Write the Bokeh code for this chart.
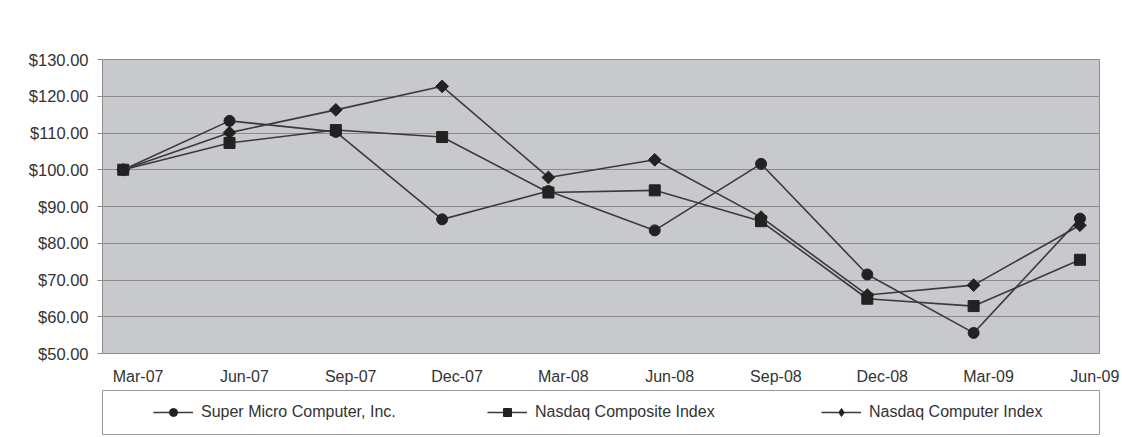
import math
from bokeh.plotting import figure
from bokeh.layouts import column
from bokeh.models import (Range1d, FixedTicker, Legend, LegendItem, ColumnDataSource)
from bokeh.embed import file_html
from bokeh.resources import INLINE

# ---- data ----
quarters = ["Mar-07", "Jun-07", "Sep-07", "Dec-07", "Mar-08", "Jun-08",
            "Sep-08", "Dec-08", "Mar-09", "Jun-09"]
smci = [100.0, 113.3, 110.3, 86.5, 94.2, 83.5, 101.6, 71.5, 55.6, 86.7]
nasdaq_composite = [100.0, 107.3, 110.8, 108.9, 93.8, 94.4, 86.0, 64.9, 62.9, 75.5]
nasdaq_computer = [100.0, 110.1, 116.3, 122.7, 97.9, 102.7, 87.1, 65.9, 68.6, 84.9]
y_ticks = [50, 60, 70, 80, 90, 100, 110, 120, 130]
series_names = ["Super Micro Computer, Inc.", "Nasdaq Composite Index", "Nasdaq Computer Index"]

xs = list(range(len(quarters)))
FONT = "Liberation Sans"

p = figure(output_backend="svg", toolbar_location=None,
           frame_width=997, frame_height=294,
           min_border_left=102, min_border_top=59, min_border_right=20, min_border_bottom=36,
           x_range=Range1d(-0.195, 9.184), y_range=Range1d(50, 130))

p.background_fill_color = "#c8c9cd"
p.border_fill_color = "white"
p.outline_line_color = "#8c8c8c"

# grid
p.xgrid.grid_line_color = None
p.ygrid.grid_line_color = "#8a8a8a"
p.ygrid.grid_line_width = 1
p.ygrid.ticker = FixedTicker(ticks=y_ticks)

# y axis
p.yaxis.ticker = FixedTicker(ticks=y_ticks)
p.yaxis.major_label_overrides = {t: "${:.2f}".format(t) for t in y_ticks}
p.yaxis.axis_line_color = "#8c8c8c"
p.yaxis.major_tick_line_color = "#8c8c8c"
p.yaxis.major_tick_out = 5
p.yaxis.major_tick_in = 0
p.yaxis.minor_tick_line_color = None
p.yaxis.major_label_text_font = FONT
p.yaxis.major_label_text_font_size = "16.5px"
p.yaxis.major_label_text_color = "#333333"
p.yaxis.major_label_standoff = 9

# x axis (labels sit slightly right of the data points, as in the original)
label_pos = [i + 0.14 for i in xs]
p.xaxis.ticker = FixedTicker(ticks=label_pos)
p.xaxis.major_label_overrides = {lp: q for lp, q in zip(label_pos, quarters)}
p.xaxis.axis_line_color = None
p.xaxis.major_tick_line_color = None
p.xaxis.minor_tick_line_color = None
p.xaxis.major_label_text_font = FONT
p.xaxis.major_label_text_font_size = "16px"
p.xaxis.major_label_text_color = "#333333"
p.xaxis.major_label_standoff = 8

LINE = "#3a3a3a"
MK = "#222222"

# (values, chart marker, size, angle, legend marker, legend size)
series = [
    (smci, "circle", 11, 0.0, "circle", 7),
    (nasdaq_composite, "square", 11, 0.0, "square", 7),
    (nasdaq_computer, "square", 9, math.pi / 4, "diamond", 10),
]

# ---- legend strip (separate figure whose frame outline is the legend box) ----
lf = figure(output_backend="svg", toolbar_location=None,
            frame_width=997, frame_height=44,
            min_border_left=102, min_border_right=20, min_border_top=1, min_border_bottom=3,
            x_range=Range1d(0, 1), y_range=Range1d(0, 1))
lf.axis.visible = False
lf.grid.visible = False
lf.outline_line_color = "#9a9a9a"
lf.background_fill_color = "white"
lf.border_fill_color = "white"

items = []
for (vals, marker, size, ang, lmarker, lsize), name in zip(series, series_names):
    src = ColumnDataSource(dict(x=xs, y=vals))
    p.line("x", "y", source=src, line_color=LINE, line_width=1.6)
    p.scatter("x", "y", source=src, marker=marker, size=size, angle=ang,
              fill_color=MK, line_color=MK)
    # legend proxies: same data, outside the strip's visible range
    pl = lf.line("x", "y", source=src, line_color=LINE, line_width=1.6)
    pm = lf.scatter("x", "y", source=src, marker=lmarker, size=lsize,
                    fill_color=MK, line_color=MK)
    items.append(LegendItem(label=name, renderers=[pl, pm]))

legend = Legend(items=items, orientation="horizontal", location=(51, 12),
                border_line_color=None, background_fill_alpha=0,
                padding=0, spacing=86, glyph_width=40, glyph_height=20,
                label_standoff=8, label_width=200, label_height=20,
                label_text_font=FONT, label_text_font_size="16px",
                label_text_color="#333333", margin=0)
lf.add_layout(legend, "center")

layout = column(p, lf, spacing=0)
open("out.html", "w").write(file_html(layout, INLINE))
